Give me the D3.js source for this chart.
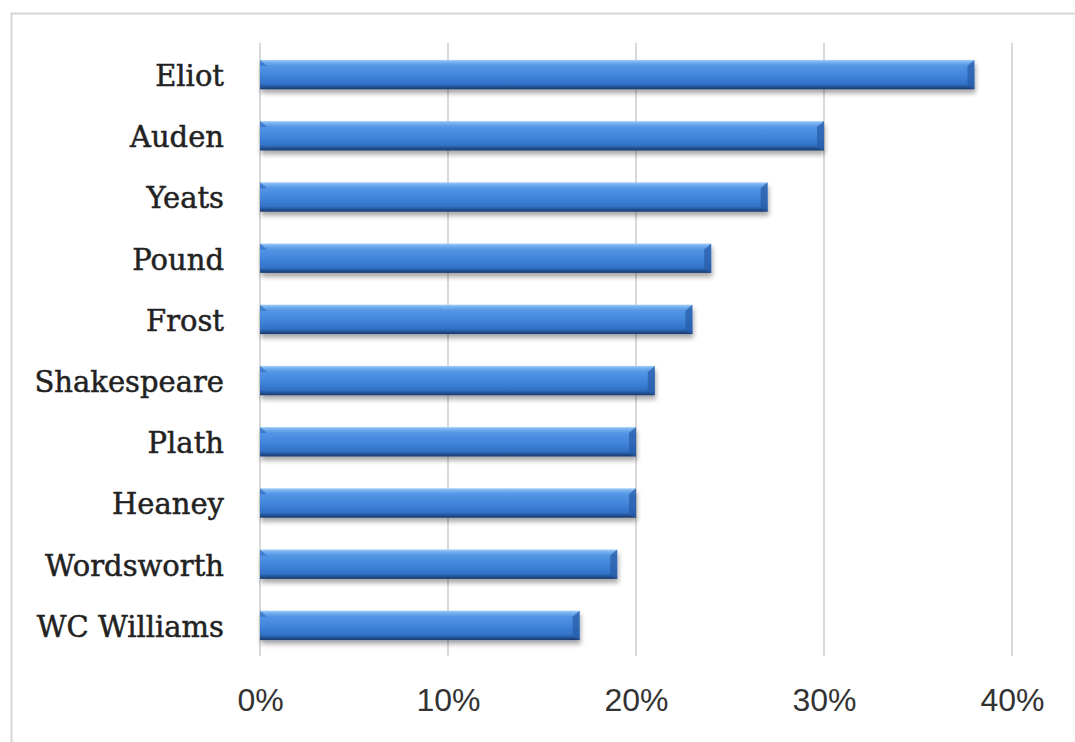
<!DOCTYPE html>
<html>
<head>
<meta charset="utf-8">
<script src="https://cdn.jsdelivr.net/npm/d3@7"></script>
<style>
  html, body { margin: 0; padding: 0; background: #ffffff; }
  svg { display: block; }
</style>
</head>
<body>
<svg id="chart" width="1075" height="742"></svg>
<script>
const poets = ["Eliot", "Auden", "Yeats", "Pound", "Frost", "Shakespeare", "Plath", "Heaney", "Wordsworth", "WC Williams"];
const shares = [38, 30, 27, 24, 23, 21, 20, 20, 19, 17];
const tickValues = [0, 10, 20, 30, 40];

const svg = d3.select("#chart");
const W = 1075, H = 742;
const plot = { left: 260, right: 1012, top: 44, bottom: 656 };

// frame
svg.append("rect").attr("x", 11.5).attr("y", 13.5).attr("width", W + 20).attr("height", H + 20)
  .attr("fill", "#fff").attr("stroke", "#d6d6d6").attr("stroke-width", 2);

const x = d3.scaleLinear().domain([0, 40]).range([plot.left, plot.right]);
const y = d3.scaleBand().domain(poets).range([plot.top, plot.bottom]).paddingInner(0.52).paddingOuter(0.26);

const defs = svg.append("defs");
const grad = defs.append("linearGradient").attr("id", "barGrad").attr("x1", 0).attr("x2", 0).attr("y1", 0).attr("y2", 1);
[[0, "#a2cef6"], [0.08, "#74aff0"], [0.2, "#5396e5"], [0.55, "#3f83da"], [0.82, "#3272c8"], [0.9, "#26589f"], [1, "#18386a"]]
  .forEach(([o, c]) => grad.append("stop").attr("offset", o).attr("stop-color", c));
const sh = defs.append("filter").attr("id", "shadow").attr("x", "-5%").attr("y", "-30%").attr("width", "110%").attr("height", "180%");
sh.append("feGaussianBlur").attr("in", "SourceAlpha").attr("stdDeviation", 2.5).attr("result", "b");
sh.append("feOffset").attr("in", "b").attr("dx", 1).attr("dy", 4).attr("result", "o");
sh.append("feComponentTransfer").attr("in", "o").attr("result", "s")
  .append("feFuncA").attr("type", "linear").attr("slope", 0.35);
const m = sh.append("feMerge");
m.append("feMergeNode").attr("in", "s");
m.append("feMergeNode").attr("in", "SourceGraphic");

// gridlines
svg.append("g").selectAll("line").data(tickValues).join("line")
  .attr("x1", d => x(d)).attr("x2", d => x(d))
  .attr("y1", plot.top - 1).attr("y2", plot.bottom)
  .attr("stroke", "#d9d9d9").attr("stroke-width", 2);

// bars
const bars = svg.append("g").selectAll("g").data(poets).join("g")
  .attr("filter", "url(#shadow)");
bars.append("rect")
  .attr("x", x(0)).attr("y", d => y(d))
  .attr("width", (d, i) => x(shares[i]) - x(0))
  .attr("height", y.bandwidth())
  .attr("fill", "url(#barGrad)");
// bevel at right end (darker side)
bars.append("path")
  .attr("d", (d, i) => {
    const xr = x(shares[i]), y0 = y(d), h = y.bandwidth();
    return `M${xr - 7},${y0 + 6} L${xr},${y0} L${xr},${y0 + h} L${xr - 7},${y0 + h - 3} Z`;
  })
  .attr("fill", "#2a5ea8").attr("opacity", 0.75);
// bevel at left end (top corner)
bars.append("path")
  .attr("d", d => {
    const xl = x(0), y0 = y(d);
    return `M${xl},${y0} L${xl + 7},${y0 + 6} L${xl},${y0 + 6} Z`;
  })
  .attr("fill", "#2f6cc0").attr("opacity", 0.7);

// category labels
svg.append("g").selectAll("text").data(poets).join("text")
  .attr("x", 224).attr("y", d => y(d) + y.bandwidth() / 2 + 1)
  .attr("dy", "0.36em")
  .attr("text-anchor", "end")
  .attr("font-family", "'DejaVu Serif', serif")
  .attr("font-size", 29)
  .attr("fill", "#222222")
  .attr("stroke", "#222222")
  .attr("stroke-width", 0.5)
  .text(d => d);

// x axis labels
const xAxis = d3.axisBottom(x).tickValues(tickValues).tickFormat(d => d + "%").tickSize(0).tickPadding(0);
const ax = svg.append("g").attr("transform", `translate(0, 688)`).call(xAxis);
ax.select(".domain").remove();
ax.selectAll("text")
  .attr("dy", "0.72em")
  .attr("font-family", "'Liberation Sans', Arial, sans-serif")
  .attr("font-size", 32)
  .attr("fill", "#333333");
</script>
</body>
</html>
